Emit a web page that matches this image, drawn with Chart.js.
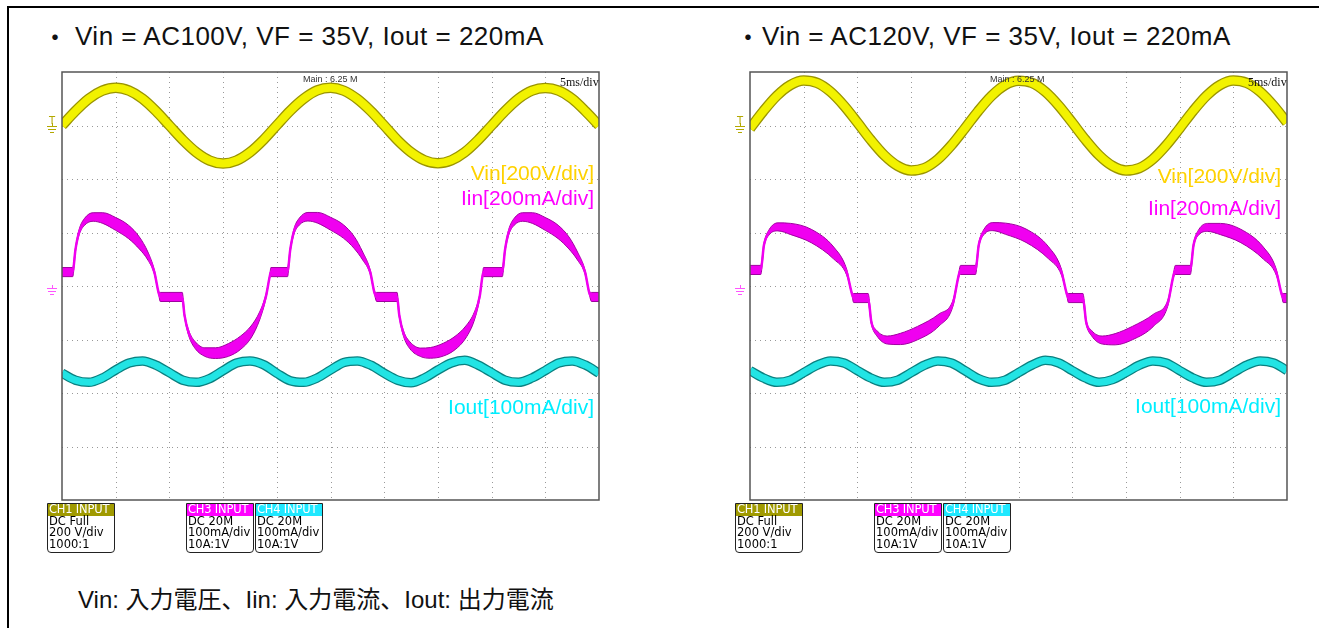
<!DOCTYPE html>
<html>
<head>
<meta charset="utf-8">
<script src="https://cdn.jsdelivr.net/npm/chart.js@4.4.1/dist/chart.umd.min.js"></script>
<style>
body{margin:0;width:1319px;height:628px;background:#fff;position:relative;overflow:hidden;font-family:"Liberation Sans","Noto Sans CJK JP",sans-serif}
.frame{position:absolute;left:7px;top:6px;width:1400px;height:700px;border-left:2px solid #000;border-top:2px solid #000}
.hd{position:absolute;top:23px;font-size:26px;line-height:26px;letter-spacing:0.5px;color:#111;white-space:nowrap}
.dot{position:absolute;top:23px;font-size:26px;line-height:26px;font-family:"Noto Sans CJK JP";color:#111}
canvas{position:absolute;top:60px}
.lbl{position:absolute;font-size:21px;line-height:21px;white-space:nowrap}
.main{position:absolute;top:74px;font-size:9px;color:#333;white-space:nowrap}
.tb{position:absolute;top:75px;font:12px "Liberation Serif",serif;color:#111;white-space:nowrap}
.ch{position:absolute;top:503px;width:66px;height:48px;border:1px solid #222;border-radius:0 0 4px 4px;background:#fff;font:11.5px/11px "DejaVu Sans",sans-serif;overflow:hidden}
.chh{color:#fff;height:12px;padding-left:1px;letter-spacing:-0.2px}
.chb{padding-left:1px;color:#000;line-height:11.4px}
.cap{position:absolute;left:78px;top:588px;font-size:24px;line-height:24px;color:#111;white-space:nowrap}
</style>
</head>
<body>
<div class="frame"></div>
<div class="dot" style="left:42px">・</div>
<div class="hd" style="left:75px">Vin = AC100V, VF = 35V, Iout = 220mA</div>
<div class="dot" style="left:735px">・</div>
<div class="hd" style="left:762px">Vin = AC120V, VF = 35V, Iout = 220mA</div>

<canvas id="scopeA" width="570" height="450" style="left:40px"></canvas>
<canvas id="scopeB" width="570" height="450" style="left:728px"></canvas>

<div class="main" style="left:303px">Main : 6.25 M</div>
<div class="tb" style="left:560px">5ms/div</div>
<div class="main" style="left:990px">Main : 6.25 M</div>
<div class="tb" style="left:1248px">5ms/div</div>

<div class="lbl" style="right:725px;top:162px;color:#ffd200">Vin[200V/div]</div>
<div class="lbl" style="right:725px;top:187px;color:#f0f">Iin[200mA/div]</div>
<div class="lbl" style="right:725px;top:396px;color:#0ef">Iout[100mA/div]</div>
<div class="lbl" style="right:38px;top:165px;color:#ffd200">Vin[200V/div]</div>
<div class="lbl" style="right:38px;top:197px;color:#f0f">Iin[200mA/div]</div>
<div class="lbl" style="right:38px;top:395px;color:#0ef">Iout[100mA/div]</div>

<div class="ch" style="left:47px"><div class="chh" style="background:#a09a00">CH1 INPUT</div><div class="chb">DC Full<br>200 V/div<br>1000:1</div></div>
<div class="ch" style="left:186px"><div class="chh" style="background:#f0f">CH3 INPUT</div><div class="chb">DC 20M<br>100mA/div<br>10A:1V</div></div>
<div class="ch" style="left:255px"><div class="chh" style="background:#1ee8ff">CH4 INPUT</div><div class="chb">DC 20M<br>100mA/div<br>10A:1V</div></div>
<div class="ch" style="left:735px"><div class="chh" style="background:#a09a00">CH1 INPUT</div><div class="chb">DC Full<br>200 V/div<br>1000:1</div></div>
<div class="ch" style="left:874px"><div class="chh" style="background:#f0f">CH3 INPUT</div><div class="chb">DC 20M<br>100mA/div<br>10A:1V</div></div>
<div class="ch" style="left:943px"><div class="chh" style="background:#1ee8ff">CH4 INPUT</div><div class="chb">DC 20M<br>100mA/div<br>10A:1V</div></div>

<div class="cap">Vin: 入力電圧、Iin: 入力電流、Iout: 出力電流</div>

<script>
// sample times (ms) for Vin / Iout, 5 ms per division
const timeMs = [0,1.25,2.5,3.75,5,6.25,7.5,8.75,10,11.25,12.5,13.75,15,16.25,17.5,18.75,
  20,21.25,22.5,23.75,25,26.25,27.5,28.75,30,31.25,32.5,33.75,35,36.25,37.5,38.75,
  40,41.25,42.5,43.75,45,46.25,47.5,48.75,50]

// Vin (V)
const vinA = [0,54,100,130,141,130,100,54,0,-54,-100,-131,-142,-131,-100,-54,
  1,55,100,131,141,130,99,54,0,-55,-100,-130,-141,-130,-100,-54,
  0,54,100,130,140,130,100,53,0]
const vinB = [-11,54,111,151,168,159,126,74,11,-54,-111,-151,-168,-159,-126,-74,
  -11,54,111,151,167,159,126,74,11,-54,-111,-151,-168,-159,-126,-74,
  -11,54,111,151,168,159,126,74,11]

// Iout (mA)
const ioutA = [217,204,200,208,223,236,240,232, 218,204,200,207,222,236,240,233,
  217,203,200,208,223,237,240,232, 217,204,199,208,223,236,241,232,
  218,204,200,208,222,236,240,232, 217]
const ioutB = [222,208,200,204,218,232,240,236, 222,208,200,204,218,232,240,236,
  222,207,200,204,218,232,241,236, 222,208,200,205,218,232,240,236,
  222,208,200,204,218,232,240,236, 222]

// Iin (mA): time, middle of the trace band, band thickness
const iinTimeA = [0,1.0,1.25,1.6,2.1,2.9,3.8,5.0,6.2,7.2,8.0,8.6,9.0,9.15,11.2,11.4,11.8,12.4,13.3,14.3,15.5,16.6,17.6,18.4,19.0,19.35,19.45,
  21.0,21.25,21.6,22.1,22.9,23.8,25.0,26.2,27.2,28.0,28.7,29.1,29.3,31.2,31.4,31.8,32.4,33.4,34.3,35.5,36.6,37.6,38.4,38.9,39.15,39.25,
  41.0,41.25,41.6,42.1,42.9,43.8,45.0,46.2,47.2,48.0,48.7,49.1,49.3,50]
const iinA = [52,52,135,202,240,258,254,232,202,161,112,52,-26,-41,-41,-108,-176,-221,-247,-251,-239,-213,-172,-112,-37,37,52,
  52,135,204,241,259,255,233,204,163,112,52,-26,-41,-41,-108,-178,-222,-248,-250,-238,-213,-172,-112,-37,37,52,
  52,135,202,240,258,254,232,202,161,112,52,-26,-41,-41]
const iinBandA = [34,34,15,20,26,32,40,48,50,45,30,15,11,34,34,15,20,26,32,40,48,50,45,30,15,11,34,
  34,15,20,26,32,40,48,50,45,30,15,11,34,34,15,20,26,32,40,48,50,45,30,15,11,34,
  34,15,20,26,32,40,48,50,45,30,15,11,34,34]

const iinTimeB = [0,1.0,1.3,1.8,2.6,3.8,5.7,7.8,9.0,9.5,9.65,11.0,11.3,11.8,12.8,14.0,15.6,17.6,18.9,19.4,19.6,
  21.0,21.3,21.8,22.6,23.8,25.7,27.8,29.0,29.5,29.65,31.0,31.3,31.8,32.8,34.0,35.6,37.6,38.9,39.4,39.6,
  41.0,41.3,41.8,42.6,43.8,45.7,47.8,49.0,49.5,49.65,50]
const iinB = [60,60,153,202,221,213,187,123,52,-30,-45,-45,-135,-176,-202,-198,-176,-127,-64,34,60,
  60,153,203,222,214,188,124,52,-30,-45,-45,-135,-176,-202,-199,-176,-127,-64,34,60,
  60,153,202,219,213,187,123,52,-30,-45,-45]
const iinBandB = [34,34,15,20,30,42,50,45,22,11,34,34,15,20,30,42,50,45,22,11,34,
  34,15,20,30,42,50,45,22,11,34,34,15,20,30,42,50,45,22,11,34,
  34,15,20,30,42,50,45,22,11,34,34]

const pts = (xs, ys) => xs.map((x, i) => ({x, y: ys[i]}))

// grid, frame and ground markers
const scopeDeco = {
  id: 'scopeDeco',
  beforeDatasetsDraw(chart) {
    const {ctx, chartArea: a, scales} = chart
    ctx.save()
    ctx.strokeStyle = '#999'
    ctx.lineWidth = 1
    ctx.setLineDash([1, 4])
    for (let t = 5; t < 50; t += 5) {
      const x = Math.round(scales.x.getPixelForValue(t)) + 0.5
      ctx.beginPath(); ctx.moveTo(x, a.top); ctx.lineTo(x, a.bottom); ctx.stroke()
    }
    for (let d = 1; d < 8; d++) {
      const y = Math.round(scales.div.getPixelForValue(d)) + 0.5
      ctx.beginPath(); ctx.moveTo(a.left, y); ctx.lineTo(a.right, y); ctx.stroke()
    }
    ctx.restore()
  },
  afterDatasetsDraw(chart) {
    const {ctx, chartArea: a, scales} = chart
    ctx.save()
    ctx.strokeStyle = '#555'
    ctx.lineWidth = 1.5
    ctx.strokeRect(a.left, a.top, a.right - a.left, a.bottom - a.top)
    const ground = (y, col, withT) => {
      const x = a.left - 10
      ctx.strokeStyle = col
      ctx.fillStyle = col
      ctx.lineWidth = 1
      ctx.beginPath()
      ctx.moveTo(x - 5, y + 0.5); ctx.lineTo(x + 5, y + 0.5)
      ctx.moveTo(x - 4, y + 3.5); ctx.lineTo(x + 4, y + 3.5)
      ctx.moveTo(x - 2, y + 6.5); ctx.lineTo(x + 2, y + 6.5)
      ctx.moveTo(x + 0.5, y - 3); ctx.lineTo(x + 0.5, y)
      ctx.stroke()
      if (withT) {
        ctx.font = '10px "DejaVu Sans"'
        ctx.textAlign = 'center'
        ctx.fillText('T', x, y - 2)
      }
    }
    ground(Math.round(scales.vin.getPixelForValue(0)), '#b3a800', true)
    ground(Math.round(scales.iin.getPixelForValue(0)) + 2, '#ff55ff', false)
    ctx.restore()
  }
}

function makeScope(id, vin, iout, iinT, iin, iinBand) {
  const upper = iin.map((v, i) => v + iinBand[i] / 2)
  const lower = iin.map((v, i) => v - iinBand[i] / 2)
  const line = {pointRadius: 0, fill: false, clip: 0, cubicInterpolationMode: 'monotone'}
  return new Chart(document.getElementById(id), {
    type: 'line',
    data: {
      datasets: [
        {...line, data: pts(timeMs, vin), yAxisID: 'vin', borderColor: '#9a9400', borderWidth: 10.5, order: 10},
        {...line, data: pts(timeMs, vin), yAxisID: 'vin', borderColor: '#f2f200', borderWidth: 8, order: 9},
        {...line, data: pts(timeMs, iout), yAxisID: 'iout', borderColor: '#0a8080', borderWidth: 9.5, order: 8},
        {...line, data: pts(timeMs, iout), yAxisID: 'iout', borderColor: '#22e4e4', borderWidth: 7, order: 7},
        {...line, data: pts(iinT, upper), yAxisID: 'iin', borderColor: '#a000a0', borderWidth: 1, order: 5},
        {...line, data: pts(iinT, lower), yAxisID: 'iin', borderColor: '#a000a0', borderWidth: 1, fill: '-1', backgroundColor: '#f000f0', order: 6},
        {...line, data: pts(iinT, iin), yAxisID: 'iin', borderColor: '#f000f0', borderWidth: 2.5, order: 4}
      ]
    },
    options: {
      responsive: false,
      devicePixelRatio: 1,
      animation: false,
      events: [],
      layout: {padding: {left: 22, top: 12, right: 11, bottom: 10}},
      plugins: {legend: {display: false}, tooltip: {enabled: false}},
      scales: {
        x: {type: 'linear', axis: 'x', min: 0, max: 50, display: false},
        div: {type: 'linear', axis: 'y', min: 0, max: 8, display: false},
        vin: {type: 'linear', axis: 'y', min: -1400, max: 200, display: false},
        iin: {type: 'linear', axis: 'y', min: -800, max: 800, display: false},
        iout: {type: 'linear', axis: 'y', min: -20, max: 780, display: false}
      }
    },
    plugins: [scopeDeco]
  })
}

makeScope('scopeA', vinA, ioutA, iinTimeA, iinA, iinBandA)
makeScope('scopeB', vinB, ioutB, iinTimeB, iinB, iinBandB)
</script>
</body>
</html>
